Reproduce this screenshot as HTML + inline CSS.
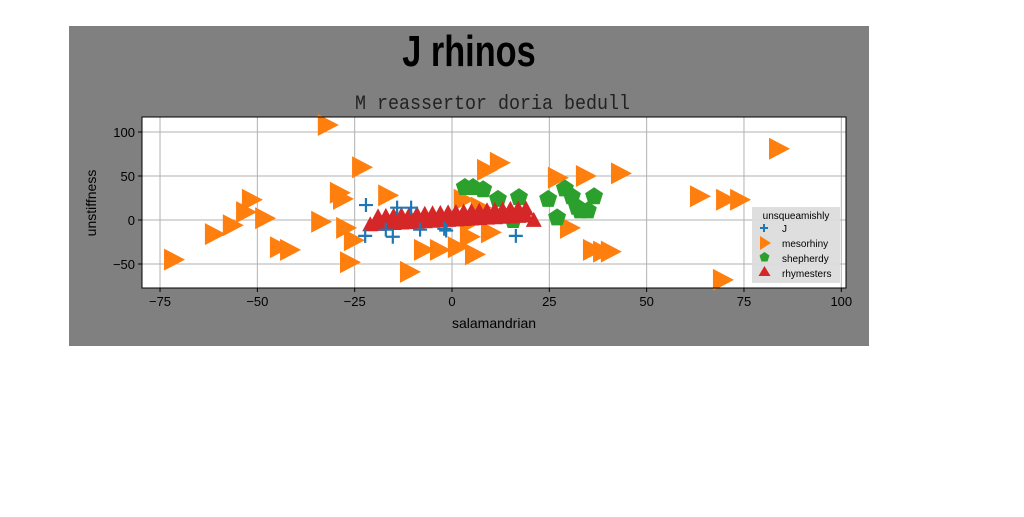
<!DOCTYPE html>
<html><head><meta charset="utf-8"><style>
body{margin:0;width:1024px;height:512px;background:#fff;overflow:hidden;font-family:"Liberation Sans",sans-serif}
</style></head><body>
<svg id="chart" width="1024" height="512" xmlns="http://www.w3.org/2000/svg">
<rect x="69" y="26" width="800" height="320" fill="#808080"/>
<text x="469" y="66" text-anchor="middle" font-family="'Liberation Sans Narrow','Liberation Sans',sans-serif" font-weight="bold" font-size="44" transform="translate(469,0) scale(0.78,1) translate(-469,0)">J rhinos</text>
<text x="355" y="109" textLength="275" lengthAdjust="spacingAndGlyphs" font-family="'Liberation Mono',monospace" font-size="20" fill="#222">M reassertor doria bedull</text>
<rect x="142" y="117" width="704" height="171" fill="#fff"/>
<g id="grid"></g><g id="marks"></g>
<rect x="142" y="117" width="704" height="171" fill="none" stroke="#000" stroke-width="1"/>
<g id="ticks"></g>
<text x="494" y="328" text-anchor="middle" font-size="14">salamandrian</text>
<text x="96" y="203" text-anchor="middle" font-size="14" transform="rotate(-90 96 203)">unstiffness</text>
<g>
<rect x="752" y="207" width="88" height="76" fill="#dcdcdc" opacity="0.95"/>
<text x="796" y="219" text-anchor="middle" font-size="10">unsqueamishly</text>
<g><path d="M764,224v8M760,228h8" stroke="#1f77b4" stroke-width="2"/><text x="782" y="232" font-size="10">J</text></g>
<g><path d="M760,236l11,7l-11,7z" fill="#ff7f0e"/><text x="782" y="247" font-size="10">mesorhiny</text></g>
<g><path d="M764.5,252l5,3.5l-2,6h-6l-2,-6z" fill="#2ca02c"/><text x="782" y="262" font-size="10">shepherdy</text></g>
<g><path d="M764.5,266l6,10h-12z" fill="#d62728"/><text x="782" y="277" font-size="10">rhymesters</text></g>
</g>
</svg>
<script>
const xTicks=[-75,-50,-25,0,25,50,75,100];
const yTicks=[-50,0,50,100];
const jX=[-22.1,-14.1,-10.5,-22.3,-15.2,-17,-8.2,-2,-1.5,16.4];
const jY=[17,14,14,-18,-19,-11,-11,-10,-12,-18];
const mesoX=[-31.9,-71.4,-60.9,-56.3,-51.4,-52.9,-48,-44.2,-41.6,-28.8,-28,-33.6,-27.2,-25.2,-26.2,-23.1,-16.4,-10.8,-7.2,-3.1,1.5,4.6,5.9,5.1,7.4,9,12.3,27.2,34.4,43.4,30.3,36.2,38.8,40.8,63.7,70.4,74,84,69.6,3,10];
const mesoY=[108,-45,-16,-6,23,9,2,-31,-34,31,24,-2,-9,-23,-48,60,28,-59,-34,-34,-31,-19,-39,-2,14,57,65,48,50,53,-9,-34,-36,-36,27,23,23,81,-68,23,-14];
const shepX=[3.3,5.4,8,11.8,17.2,15.7,24.7,29,30.8,32.9,34.9,36.5,27,32.1];
const shepY=[37.5,37.5,35,24,26,0,24,36,27,11,11,27,3,15];
const rhyX=[-21,-19,-17,-15,-13,-11,-9,-7,-5,-3,-1,1,3,5,7,9,11,13,15,17,19,21,-19,-17,-15,-13,-11,-9,-7,-5,-3,-1,1,3,5,7,9,11,13,15,17,19];
const rhyY=[-6,-5.5,-5,-4.5,-4,-3.5,-3,-2.5,-2,-1.5,-1,-0.5,0,0.5,1,1.5,2,2.5,3,3.5,4,-1,3,3.5,4,4.5,5,5.5,6,6.5,7,7.5,8,8.5,9,9.5,10,10.5,11,11.5,12,12];
const X=v=>452+v*3.893, Y=v=>220-v*0.88;
const NS='http://www.w3.org/2000/svg';
const grid=document.getElementById('grid'),marks=document.getElementById('marks'),ticks=document.getElementById('ticks');
function mk(tag,attrs,parent){const e=document.createElementNS(NS,tag);for(const k in attrs)e.setAttribute(k,attrs[k]);parent.appendChild(e);return e;}
xTicks.forEach(t=>{
 const l=mk('line',{x1:X(t),x2:X(t),y1:117,y2:288,stroke:'#b0b0b0'},grid);
 
 
 mk('line',{x1:X(t),x2:X(t),y1:288,y2:292,stroke:'#000'},ticks);
 const tx=mk('text',{x:X(t),y:306,'text-anchor':'middle','font-size':13},ticks);tx.textContent=t<0?'\u2212'+(-t):t;
 
 
});
yTicks.forEach(t=>{
 const l=mk('line',{x1:142,x2:846,y1:Y(t),y2:Y(t),stroke:'#b0b0b0'},grid);
 
 
 mk('line',{x1:138,x2:142,y1:Y(t),y2:Y(t),stroke:'#000'},ticks);
 const tx=mk('text',{x:135,y:Y(t)+5,'text-anchor':'end','font-size':13},ticks);tx.textContent=t<0?'\u2212'+(-t):t;
 
 
});
mesoX.forEach((v,i)=>{const x=X(v),y=Y(mesoY[i]);
 const p=mk('path',{d:`M${x-10},${y-11}L${x+11},${y}L${x-10},${y+11}Z`,fill:'#ff7f0e'},marks);
 
 });
shepX.forEach((v,i)=>{const x=X(v),y=Y(shepY[i]);
 const p=mk('path',{d:`M${x},${y-9}L${x+9},${y-3}L${x+5.5},${y+8}L${x-5.5},${y+8}L${x-9},${y-3}Z`,fill:'#2ca02c'},marks);
 
 });
rhyX.forEach((v,i)=>{const x=X(v),y=Y(rhyY[i]);
 const p=mk('path',{d:`M${x},${y-9}L${x+8},${y+6}L${x-8},${y+6}Z`,fill:'#d62728'},marks);
 
 });
jX.forEach((v,i)=>{const x=X(v),y=Y(jY[i]);
 const p=mk('path',{d:`M${x-7},${y}H${x+7}M${x},${y-7}V${y+7}`,stroke:'#1f77b4','stroke-width':2.2},marks);
 
 });
</script>
</body></html>
